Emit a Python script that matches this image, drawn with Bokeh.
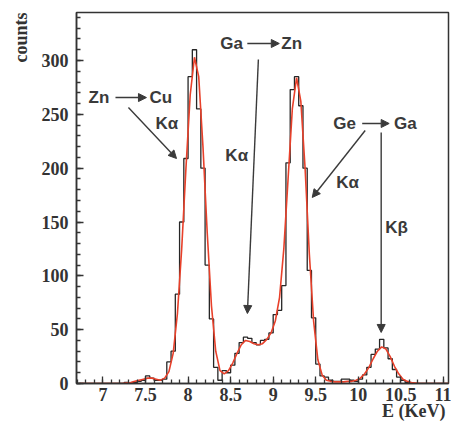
import numpy as np
from bokeh.plotting import figure
from bokeh.models import (Range1d, SingleIntervalTicker, NumeralTickFormatter,
                          Label, Arrow, NormalHead, Title)
from bokeh.embed import file_html
from bokeh.resources import INLINE

# ---- data ----
bin_start = 6.70
bin_width = 0.05
counts = [0, 0, 0, 0, 0, 0, 0, 0, 0, 0, 0, 1, 0,
          1, 2, 3, 7, 5, 3, 3, 4, 20, 30,
          83, 150, 209, 285, 310, 255, 200, 110, 60, 15,
          3, 12, 10, 17, 28, 38, 43, 42, 38, 36, 40, 41, 47,
          64, 68, 91, 205, 273, 285, 258, 200, 105, 61, 18,
          7, 6, 3, 2, 2, 4, 4, 3, 2, 4, 8, 15, 27, 32, 41, 33, 23, 13, 6, 3, 1,
          0, 0, 0, 0, 0, 0, 0, 0, 0, 0]
fit = [0, 0, 0, 0, 0, 0, 0, 0, 0, 0, 0, 0.5, 1,
       2, 3, 4, 5, 5, 4, 3, 5, 11, 28,
       65, 125, 200, 268, 303, 285, 220, 140, 72, 30,
       12, 9, 12, 19, 28, 36, 40, 39, 37, 36, 37, 41, 47,
       58, 80, 125, 190, 255, 284, 262, 200, 120, 58, 22,
       8, 3, 2, 1.5, 1.5, 1.5, 2, 2, 3, 5, 9, 15, 23, 30, 34, 32, 25, 16, 9, 4, 2,
       1, 0.5, 0, 0, 0, 0, 0, 0, 0, 0]
energy = np.round(bin_start + bin_width * (np.arange(len(counts)) + 0.5), 4)

TXT = "#3a3a3a"
AX = "#333333"

p = figure(width=451, height=421, output_backend="svg", toolbar_location=None,
           x_range=Range1d(6.689, 11.06), y_range=Range1d(0, 344.6),
           min_border_left=76, min_border_right=3, min_border_top=12,
           min_border_bottom=38)
p.background_fill_color = "white"
p.border_fill_color = "white"
p.outline_line_color = AX
p.outline_line_width = 1.5
p.xgrid.visible = False
p.ygrid.visible = False

for ax in (p.xaxis[0], p.yaxis[0]):
    ax.axis_line_color = AX
    ax.axis_line_width = 1.5
    ax.major_tick_in = 7
    ax.major_tick_out = 0
    ax.minor_tick_in = 4
    ax.minor_tick_out = 0
    ax.major_tick_line_color = AX
    ax.minor_tick_line_color = AX
    ax.major_tick_line_width = 1.3
    ax.minor_tick_line_width = 1.3
    ax.major_label_text_font = "Liberation Serif"
    ax.major_label_text_font_style = "bold"
    ax.major_label_text_font_size = "18px"
    ax.major_label_text_color = AX

p.xaxis[0].ticker = SingleIntervalTicker(interval=0.5, num_minor_ticks=5)
p.xaxis[0].formatter = NumeralTickFormatter(format="0.[0]")
p.xaxis[0].major_label_standoff = 4
p.yaxis[0].ticker = SingleIntervalTicker(interval=50, num_minor_ticks=5)
p.yaxis[0].major_label_standoff = 8

p.step(energy, counts, mode="center", line_color="#262626", line_width=1.3)
p.line(energy, fit, line_color="#e8402a", line_width=1.6)

# axis titles
p.add_layout(Title(text="counts", align="right", standoff=16,
                   text_font="Liberation Serif", text_font_style="bold",
                   text_font_size="18px", text_color=AX), "left")
p.add_layout(Title(text="E (KeV)", align="right", standoff=-10, offset=3,
                   text_font="Liberation Serif", text_font_style="bold",
                   text_font_size="18px", text_color=AX), "below")

def lab(x, y, t):
    p.add_layout(Label(x=x, y=y, text=t, text_align="left", text_baseline="middle",
                       text_font="Liberation Sans", text_font_style="bold",
                       text_font_size="17px", text_color=TXT))

def arr(x0, y0, x1, y1):
    p.add_layout(Arrow(x_start=x0, y_start=y0, x_end=x1, y_end=y1,
                       line_color=TXT, line_width=1.4,
                       end=NormalHead(size=8, fill_color=TXT, line_color=TXT)))

lab(6.830, 265.6, "Zn")
arr(7.147, 265.6, 7.511, 265.6)
lab(7.546, 265.6, "Cu")
lab(7.616, 241.5, "Kα")
arr(7.299, 256.3, 7.864, 209.0)

lab(8.379, 315.8, "Ga")
arr(8.696, 315.8, 9.072, 315.8)
lab(9.095, 315.8, "Zn")
lab(8.438, 211.8, "Kα")
arr(8.826, 300.9, 8.697, 65.0)

lab(9.705, 241.5, "Ge")
arr(10.046, 241.5, 10.363, 241.5)
lab(10.421, 241.5, "Ga")
lab(9.741, 186.7, "Kα")
arr(10.081, 235.0, 9.459, 172.8)
lab(10.316, 144.9, "Kβ")
arr(10.269, 233.1, 10.269, 47.4)

open("out.html", "w").write(file_html(p, INLINE))
